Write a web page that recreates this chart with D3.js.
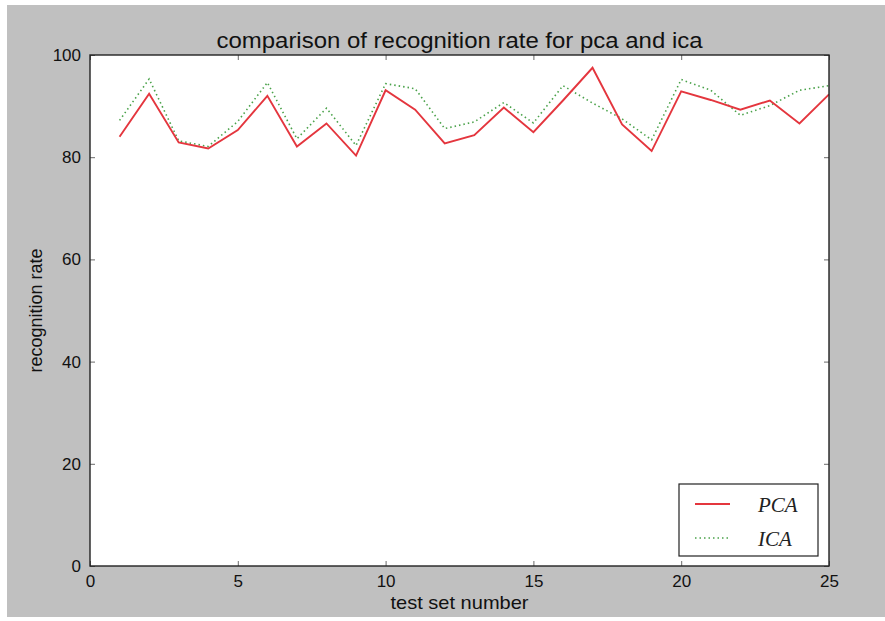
<html>
<head>
<meta charset="utf-8">
<title>comparison of recognition rate</title>
<style>
  body { margin: 0; background: #fff; }
</style>
</head>
<body>
<script src="https://cdn.jsdelivr.net/npm/d3@7/dist/d3.min.js"></script>
<script>
var width = 885;
var height = 621;

// data
var testSets = d3.range(1, 26);
var pca = [84.0, 92.4, 82.9, 81.7, 85.3, 92.0, 82.1, 86.6, 80.3, 93.1,
           89.3, 82.7, 84.3, 89.7, 84.9, 91.1, 97.5, 86.4, 81.2, 92.9,
           91.2, 89.3, 91.1, 86.6, 92.3];
var ica = [87.2, 95.3, 83.2, 82.1, 87.0, 94.6, 83.6, 89.6, 82.3, 94.4,
           93.4, 85.6, 86.9, 90.7, 86.7, 94.0, 90.6, 87.5, 83.4, 95.2,
           93.1, 88.2, 90.1, 93.1, 94.0];
var xTicks = [0, 5, 10, 15, 20, 25];
var yTicks = [0, 20, 40, 60, 80, 100];

var sans = "Liberation Sans, Arial, Helvetica, sans-serif";
var margin = {left: 90, right: 56, top: 55, bottom: 55};

var svg = d3.select("body").append("svg")
    .attr("width", width)
    .attr("height", height);

// gray figure background
svg.append("rect")
    .attr("x", 7).attr("y", 5)
    .attr("width", width - 7).attr("height", 612)
    .attr("fill", "#c0c0c0");

var x = d3.scaleLinear().domain([0, 25]).range([margin.left, width - margin.right]);
var y = d3.scaleLinear().domain([0, 100]).range([height - margin.bottom, margin.top]);

svg.append("rect")
    .attr("x", x(0)).attr("y", y(100))
    .attr("width", x(25) - x(0)).attr("height", y(0) - y(100))
    .attr("fill", "#fff");

// inward ticks, matplotlib style
var xAxisB = d3.axisBottom(x).tickValues(xTicks).tickSize(-5).tickPadding(9);
var xAxisT = d3.axisTop(x).tickValues(xTicks).tickSize(-5).tickFormat("");
var yAxisL = d3.axisLeft(y).tickValues(yTicks).tickSize(-5).tickPadding(9);
var yAxisR = d3.axisRight(y).tickValues(yTicks).tickSize(-5).tickFormat("");

function style(g) {
  g.select(".domain").remove();
  g.selectAll(".tick line").attr("stroke", "#444").attr("stroke-width", 0.8);
  g.selectAll(".tick text").attr("font-size", 17).attr("fill", "#111")
   .attr("font-family", sans);
}

svg.append("g").attr("transform", "translate(0," + y(0) + ")").call(xAxisB).call(style);
svg.append("g").attr("transform", "translate(0," + y(100) + ")").call(xAxisT).call(style);
svg.append("g").attr("transform", "translate(" + x(0) + ",0)").call(yAxisL).call(style);
svg.append("g").attr("transform", "translate(" + x(25) + ",0)").call(yAxisR).call(style);

var lineGen = d3.line()
    .x(function(d, i){ return x(testSets[i]); })
    .y(function(d){ return y(d); });

svg.append("path")
    .datum(ica)
    .attr("d", lineGen)
    .attr("fill", "none")
    .attr("stroke", "#4aa24a")
    .attr("stroke-width", 1.6)
    .attr("stroke-dasharray", "1.5,3");

svg.append("path")
    .datum(pca)
    .attr("d", lineGen)
    .attr("fill", "none")
    .attr("stroke", "#e4363e")
    .attr("stroke-width", 1.9);

// frame
svg.append("rect")
    .attr("x", x(0)).attr("y", y(100))
    .attr("width", x(25) - x(0)).attr("height", y(0) - y(100))
    .attr("fill", "none").attr("stroke", "#222").attr("stroke-width", 1.4);

// title and axis labels
svg.append("text")
    .attr("x", (x(0) + x(25)) / 2).attr("y", 48)
    .attr("text-anchor", "middle").attr("font-size", 22).attr("fill", "#111")
    .attr("font-family", sans)
    .attr("textLength", 486).attr("lengthAdjust", "spacingAndGlyphs")
    .text("comparison of recognition rate for pca and ica");

svg.append("text")
    .attr("x", (x(0) + x(25)) / 2).attr("y", 609)
    .attr("text-anchor", "middle").attr("font-size", 19).attr("fill", "#111")
    .attr("font-family", sans)
    .attr("textLength", 138).attr("lengthAdjust", "spacingAndGlyphs")
    .text("test set number");

svg.append("text")
    .attr("transform", "translate(42," + ((y(0) + y(100)) / 2) + ") rotate(-90)")
    .attr("text-anchor", "middle").attr("font-size", 18).attr("fill", "#111")
    .attr("font-family", sans)
    .text("recognition rate");

// legend
var legend = svg.append("g").attr("transform", "translate(679,484)");
legend.append("rect")
    .attr("width", 139).attr("height", 72)
    .attr("fill", "#fff").attr("stroke", "#222").attr("stroke-width", 1.2);

var entries = [
  {name: "PCA", color: "#e4363e", dash: null, w: 1.9},
  {name: "ICA", color: "#4aa24a", dash: "1.5,3", w: 1.6}
];
entries.forEach(function(e, i) {
  var yy = 20 + i * 34;
  legend.append("line")
      .attr("x1", 16).attr("x2", 51).attr("y1", yy).attr("y2", yy)
      .attr("stroke", e.color).attr("stroke-width", e.w)
      .attr("stroke-dasharray", e.dash);
  legend.append("text")
      .attr("x", 79).attr("y", yy + 8)
      .attr("font-family", "Liberation Serif, DejaVu Serif, serif")
      .attr("font-style", "italic").attr("font-size", 21).attr("fill", "#222")
      .text(e.name);
});
</script>
</body>
</html>
